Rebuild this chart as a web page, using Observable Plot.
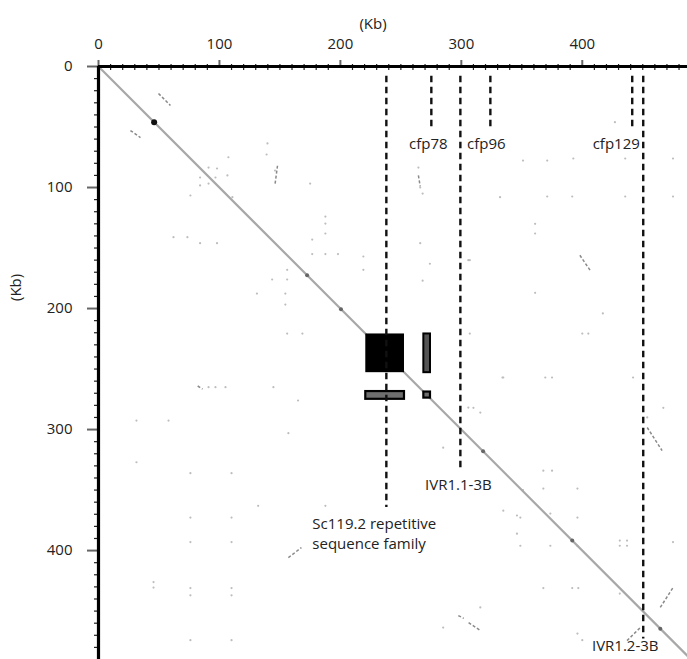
<!DOCTYPE html>
<html><head><meta charset="utf-8">
<script src="https://cdn.jsdelivr.net/npm/d3@7"></script>
<script src="https://cdn.jsdelivr.net/npm/@observablehq/plot@0.6"></script>
<style>
html,body{margin:0;padding:0;background:#fff;}
#chart svg{display:block;}
</style>
</head><body><div id="chart"></div>
<script>
// ---- data (Kb) ----
const seqLengthX = 487;
const seqLengthY = 490;
const majorTicks = [0, 100, 200, 300, 400];
const minorTicks = d3.range(10, 490, 10).filter(v => v % 100 !== 0);

const featureNames = ["Sc119.2 repetitive\nsequence family", "cfp78", "IVR1.1-3B", "cfp96", "cfp129", "IVR1.2-3B"];
const featureKb    = [238, 275.2, 299.2, 324, 441.3, 450.4];
const featureEndKb = [364.5, 51, 335, 51, 51, 473];

// dense repeat blocks (square, vertical bar, horizontal bars, small mark)
const blockX1 = [221, 269, 221, 269];
const blockX2 = [253, 274.5, 253, 274.5];
const blockY1 = [221, 221, 268.6, 269];
const blockY2 = [253, 253, 275, 274];

// short off-diagonal similarity segments [x1, y1, x2, y2]
const segX1 = [49.6, 26.4, 148, 398, 453.7, 157, 297.5, 306, 464.5, 437, 82, 264.5];
const segY1 = [22.3, 52.9, 82, 156, 298.3, 405.8, 453.7, 459.5, 447, 474.4, 264, 90];
const segX2 = [59.5, 34.7, 146, 406.6, 466, 167.8, 302, 315.7, 475, 448, 86, 266];
const segY2 = [32.2, 58.7, 97, 168.6, 317.4, 397.5, 456, 466, 430.6, 463.6, 266.5, 99];

// faint match points
const dotX = [91,98,84,96.7,84,91,76,107.4,106.6,139.7,139,146,62,73.5,84,98,110.7,
  187.6,187.6,187.6,176.7,176.7,187.6,198,219,219,156,143.6,156,154.5,131,154.5,156,168.6,175,
  91,96.7,105,144.6,31.4,57.9,31.4,157,165,
  76,110,76,110,76,110,76,110,76,110,76,110,45.5,45.5,132,187.6,
  334.7,315.7,305.8,285,285,315.7,346,346,334.7,
  264.5,266,268,266,274,268,
  371,392.6,435.5,475,371,391.7,435.5,475,332,351,
  361,361,361,427,305.8,
  367.8,375,367.8,396,348.8,373.6,396,348.8,373.6,396,431,437,431,437,475,367.8,391.7,396.7,431,351,396,400,
  417,400,405,334,369.4,375,442,307,307,310,467,453.7];
const dotY = [83.5,84.3,91.7,91.7,98.3,96.7,106.6,75,90,63.6,72.7,86,141,141,146,146,108,
  124,129.8,138,143,155,155,155,157,168,168,176,176,187.6,187.6,196.7,220.7,220.7,96.7,
  265,265,265,265,292.6,292.6,327,303,276,
  336,336,372.7,372.7,393,393,431,431,437,437,474,474,426,430.6,363,363,
  257,286,281.8,315,463.6,447,371,386,367,
  83.5,100,105,146,163,177,
  77.7,76,76,76,107.4,107.4,107.4,107.4,108,77.7,
  130,138,187,46,160,
  334,334,348.8,348.8,372.7,369.4,372.7,396,396,396,391.7,391.7,396,396,393,431,431,431,435.5,350,468.6,474,
  204,220.7,220.7,257,257,257,257,160,220.7,282,282,290];

// darker spots on the main diagonal
const spotKb = [46, 172.5, 200.5, 318, 391.7, 464.5];

// ---- build tables ----
const features = featureNames.map((name, i) => ({name, x: featureKb[i], end: featureEndKb[i]}));
const blocks = blockX1.map((x1, i) => ({x1, x2: blockX2[i], y1: blockY1[i], y2: blockY2[i], i}));
const segs = segX1.map((x1, i) => ({x1, y1: segY1[i], x2: segX2[i], y2: segY2[i]}));
const dots = dotX.map((x, i) => ({x, y: dotY[i]}));
const spots = spotKb.map(v => ({x: v, y: v}));

const labelLayout = {
  "Sc119.2 repetitive\nsequence family": {dx: -74, dy: 25, anchor: "start"},
  "cfp78": {dx: -3, dy: 14, anchor: "middle"},
  "IVR1.1-3B": {dx: -2, dy: 12, anchor: "middle"},
  "cfp96": {dx: -4, dy: 14, anchor: "middle"},
  "cfp129": {dx: -16, dy: 14, anchor: "middle"},
  "IVR1.2-3B": {dx: -18, dy: 6, anchor: "middle"}
};

const FONT = "'Open Sans', Lato, sans-serif";

const chart = Plot.plot({
  width: 687,
  height: 659,
  marginTop: 66,
  marginLeft: 98,
  marginRight: 0,
  marginBottom: 0,
  style: {fontFamily: FONT, fontSize: "15px", color: "#222", background: "#fff"},
  x: {domain: [0, seqLengthX], axis: null},
  y: {domain: [0, seqLengthY], reverse: true, axis: null},
  marks: [
    // faint match points
    Plot.dot(dots, {x: "x", y: "y", r: 1.1, fill: "#bdbdbd", stroke: "none"}),
    // short similarity segments
    Plot.link(segs, {x1: "x1", y1: "y1", x2: "x2", y2: "y2", stroke: "#8a8a8a", strokeWidth: 1.5, strokeDasharray: "3,2"}),
    // main diagonal (self-identity)
    Plot.line([[0, 0], [seqLengthX, seqLengthX]], {stroke: "#a8a8a8", strokeWidth: 2.2}),
    Plot.dot(spots, {x: "x", y: "y", r: 2, fill: "#666"}),
    Plot.dot(spots.slice(0, 1), {x: "x", y: "y", r: 3, fill: "#111"}),
    // repeat blocks
    Plot.rect(blocks.filter(b => b.i === 0), {x1: "x1", x2: "x2", y1: "y1", y2: "y2", fill: "#000"}),
    Plot.rect(blocks.filter(b => b.i === 1), {x1: "x1", x2: "x2", y1: "y1", y2: "y2", fill: "#555", stroke: "#000", strokeWidth: 2}),
    Plot.rect(blocks.filter(b => b.i > 1), {x1: "x1", x2: "x2", y1: "y1", y2: "y2", fill: "#6e6e6e", stroke: "#000", strokeWidth: 2.2}),
    // dashed feature markers
    Plot.ruleX(features, {x: "x", y1: 8, y2: "end", stroke: "#111", strokeWidth: 2.4, strokeDasharray: "6.5,4.5"}),
    ...features.map(f => Plot.text([f], {
      x: "x", y: "end", text: "name",
      dx: labelLayout[f.name].dx, dy: labelLayout[f.name].dy,
      textAnchor: labelLayout[f.name].anchor, lineAnchor: "middle", lineHeight: 1.35,
      fill: "#222", fontSize: 15
    })),
    // axes: minor ticks crossing the axis lines
    Plot.axisX({anchor: "top", ticks: minorTicks, tickSize: 6, dy: 3, tickFormat: () => "", stroke: "#222", strokeWidth: 1.2}),
    Plot.axisY({anchor: "left", ticks: minorTicks, tickSize: 6, dx: 2, tickFormat: () => "", stroke: "#222", strokeWidth: 1.2}),
    // major ticks with labels
    Plot.axisX({anchor: "top", ticks: majorTicks, tickSize: 7, tickPadding: 11, stroke: "#666", strokeWidth: 2, fill: "#222", fontSize: 15}),
    Plot.axisY({anchor: "left", ticks: majorTicks, tickSize: 11, tickPadding: 15, stroke: "#666", strokeWidth: 2, fill: "#222", fontSize: 15}),
    // axis lines
    Plot.ruleY([0], {stroke: "#000", strokeWidth: 3.2}),
    Plot.ruleX([0], {stroke: "#000", strokeWidth: 3.2}),
    // axis titles
    Plot.text(["(Kb)"], {frameAnchor: "top", dx: -20, dy: -48, fill: "#222", fontSize: 15}),
    Plot.text(["(Kb)"], {frameAnchor: "left", dx: -82, dy: -62, rotate: -90, fill: "#222", fontSize: 15})
  ]
});
document.getElementById("chart").appendChild(chart);
</script>
</body></html>
